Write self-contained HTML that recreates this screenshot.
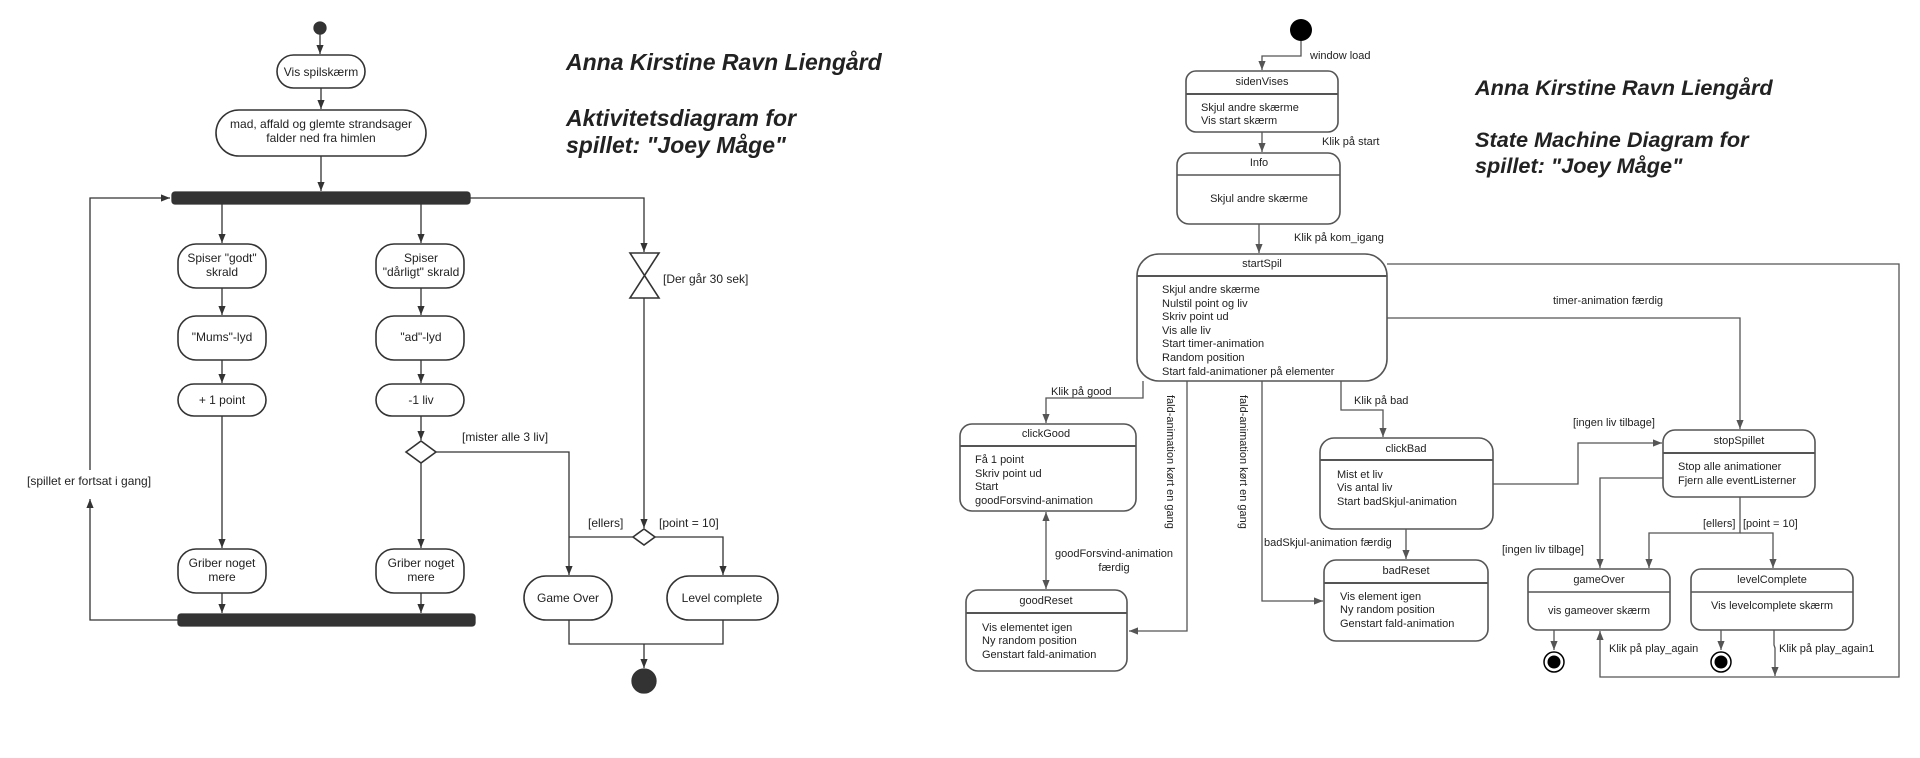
<!DOCTYPE html>
<html><head><meta charset="utf-8"><style>
html,body{margin:0;padding:0;background:#fff;}
svg{display:block;}
text{font-family:"Liberation Sans",sans-serif;fill:#222;}
</style></head><body>
<svg width="1920" height="758" viewBox="0 0 1920 758" xmlns="http://www.w3.org/2000/svg">
<defs>
<marker id="a" viewBox="0 0 10 10" refX="10" refY="5" markerWidth="7" markerHeight="7" orient="auto-start-reverse"><path d="M0,1 L10,5 L0,9 z" fill="#333"/></marker>
<marker id="g" viewBox="0 0 10 10" refX="10" refY="5" markerWidth="7" markerHeight="7" orient="auto-start-reverse"><path d="M0,1 L10,5 L0,9 z" fill="#555"/></marker>
</defs>

<!-- ===== Activity diagram ===== -->
<g stroke="#333" stroke-width="1.3" fill="none">
<circle cx="320" cy="28" r="6" fill="#333"/>
<path d="M320 34 V54" marker-end="url(#a)"/>
<rect x="277" y="55" width="88" height="33" rx="16.5" fill="#fff" stroke-width="1.6"/>
<path d="M321 88 V109" marker-end="url(#a)"/>
<rect x="216" y="110" width="210" height="46" rx="23" fill="#fff" stroke-width="1.6"/>
<path d="M321 156 V191" marker-end="url(#a)"/>
<rect x="172" y="192" width="298" height="12" rx="3" fill="#333"/>
<path d="M222 204 V243" marker-end="url(#a)"/>
<path d="M421 204 V243" marker-end="url(#a)"/>
<path d="M470 198 H644 V252" marker-end="url(#a)"/>
<rect x="178" y="244" width="88" height="44" rx="18" fill="#fff" stroke-width="1.6"/>
<rect x="376" y="244" width="88" height="44" rx="18" fill="#fff" stroke-width="1.6"/>
<path d="M222 288 V315" marker-end="url(#a)"/>
<path d="M421 288 V315" marker-end="url(#a)"/>
<rect x="178" y="316" width="88" height="44" rx="18" fill="#fff" stroke-width="1.6"/>
<rect x="376" y="316" width="88" height="44" rx="18" fill="#fff" stroke-width="1.6"/>
<path d="M222 360 V383" marker-end="url(#a)"/>
<path d="M421 360 V383" marker-end="url(#a)"/>
<rect x="178" y="384" width="88" height="32" rx="16" fill="#fff" stroke-width="1.6"/>
<rect x="376" y="384" width="88" height="32" rx="16" fill="#fff" stroke-width="1.6"/>
<path d="M222 416 V548" marker-end="url(#a)"/>
<path d="M421 416 V440" marker-end="url(#a)"/>
<path d="M406 452 L421 441 L436 452 L421 463 Z" fill="#fff" stroke-width="1.6"/>
<path d="M421 463 V548" marker-end="url(#a)"/>
<path d="M436 452 H569 V575" marker-end="url(#a)"/>
<rect x="178" y="549" width="88" height="44" rx="18" fill="#fff" stroke-width="1.6"/>
<rect x="376" y="549" width="88" height="44" rx="18" fill="#fff" stroke-width="1.6"/>
<path d="M222 593 V613" marker-end="url(#a)"/>
<path d="M421 593 V613" marker-end="url(#a)"/>
<rect x="178" y="614" width="297" height="12" rx="3" fill="#333"/>
<path d="M178 620 H90 V499" marker-end="url(#a)"/>
<path d="M90 470 V198 H170" marker-end="url(#a)"/>
<path d="M630 253 H659 L630 298 H659 Z" fill="#fff" stroke-width="1.6"/>
<path d="M644 298 V528" marker-end="url(#a)"/>
<path d="M633 537 L644 529 L655 537 L644 545 Z" fill="#fff" stroke-width="1.6"/>
<path d="M633 537 H569"/>
<path d="M655 537 H723 V575" marker-end="url(#a)"/>
<rect x="524" y="576" width="88" height="44" rx="22" fill="#fff" stroke-width="1.6"/>
<rect x="667" y="576" width="111" height="44" rx="22" fill="#fff" stroke-width="1.6"/>
<path d="M569 620 V644 H723 V620"/>
<path d="M644 644 V668" marker-end="url(#a)"/>
<circle cx="644" cy="681" r="12" fill="#333"/>
</g>
<g font-size="12" text-anchor="middle">
<text x="321" y="76">Vis spilskærm</text>
<text x="321" y="128">mad, affald og glemte strandsager</text>
<text x="321" y="142">falder ned fra himlen</text>
<text x="222" y="262">Spiser "godt"</text>
<text x="222" y="276">skrald</text>
<text x="421" y="262">Spiser</text>
<text x="421" y="276">"dårligt" skrald</text>
<text x="222" y="341">"Mums"-lyd</text>
<text x="421" y="341">"ad"-lyd</text>
<text x="222" y="404">+ 1 point</text>
<text x="421" y="404">-1 liv</text>
<text x="222" y="567">Griber noget</text>
<text x="222" y="581">mere</text>
<text x="421" y="567">Griber noget</text>
<text x="421" y="581">mere</text>
<text x="568" y="602">Game Over</text>
<text x="722" y="602">Level complete</text>
</g>
<g font-size="12">
<text x="462" y="441">[mister alle 3 liv]</text>
<text x="663" y="283">[Der går 30 sek]</text>
<text x="588" y="527">[ellers]</text>
<text x="659" y="527">[point = 10]</text>
<text x="27" y="485">[spillet er fortsat i gang]</text>
</g>
<g font-size="23" font-weight="bold" font-style="italic">
<text x="566" y="70">Anna Kirstine Ravn Liengård</text>
<text x="566" y="126">Aktivitetsdiagram for</text>
<text x="566" y="153">spillet: "Joey Måge"</text>
</g>

<!-- ===== State machine diagram ===== -->
<g stroke="#555" stroke-width="1.3" fill="none">
<circle cx="1301" cy="30" r="11" fill="#000" stroke="none"/>
<path d="M1301 41 V56 H1262 V70" marker-end="url(#g)"/>
<rect x="1186" y="71" width="152" height="61" rx="10" fill="#fff" stroke-width="1.6"/>
<path d="M1186 94 H1338" stroke-width="2"/>
<path d="M1262 132 V152" marker-end="url(#g)"/>
<rect x="1177" y="153" width="163" height="71" rx="12" fill="#fff" stroke-width="1.6"/>
<path d="M1177 175 H1340" stroke-width="1.6"/>
<path d="M1259 224 V253" marker-end="url(#g)"/>
<rect x="1137" y="254" width="250" height="127" rx="22" fill="#fff" stroke-width="1.6"/>
<path d="M1137 276 H1387" stroke-width="2"/>
<path d="M1387 264 H1899 V677 H1600 V631" marker-end="url(#g)"/>
<path d="M1774 630 V645 L1775 648 V676" marker-end="url(#g)"/>
<path d="M1387 318 H1740 V429" marker-end="url(#g)"/>
<path d="M1143 381 V398 H1046 V423" marker-end="url(#g)"/>
<rect x="960" y="424" width="176" height="87" rx="12" fill="#fff" stroke-width="1.6"/>
<path d="M960 446 H1136" stroke-width="2"/>
<path d="M1046 512 V589" marker-start="url(#g)" marker-end="url(#g)"/>
<rect x="966" y="590" width="161" height="81" rx="12" fill="#fff" stroke-width="1.6"/>
<path d="M966 613 H1127" stroke-width="2"/>
<path d="M1187 381 V631 H1129" marker-end="url(#g)"/>
<path d="M1262 381 V601 H1323" marker-end="url(#g)"/>
<path d="M1341 381 V410 H1383 V437" marker-end="url(#g)"/>
<rect x="1320" y="438" width="173" height="91" rx="14" fill="#fff" stroke-width="1.6"/>
<path d="M1320 460 H1493" stroke-width="2"/>
<path d="M1493 484 H1578 V443 H1662" marker-end="url(#g)"/>
<path d="M1406 529 V559" marker-end="url(#g)"/>
<rect x="1324" y="560" width="164" height="81" rx="12" fill="#fff" stroke-width="1.6"/>
<path d="M1324 583 H1488" stroke-width="2"/>
<rect x="1663" y="430" width="152" height="67" rx="12" fill="#fff" stroke-width="1.6"/>
<path d="M1663 453 H1815" stroke-width="2"/>
<path d="M1663 478 H1600 V568" marker-end="url(#g)"/>
<path d="M1740 497 V533 H1649 V568" marker-end="url(#g)"/>
<path d="M1740 533 H1773 V568" marker-end="url(#g)"/>
<rect x="1528" y="569" width="142" height="61" rx="10" fill="#fff" stroke-width="1.6"/>
<path d="M1528 592 H1670" stroke-width="1.6"/>
<rect x="1691" y="569" width="162" height="61" rx="10" fill="#fff" stroke-width="1.6"/>
<path d="M1691 592 H1853" stroke-width="1.6"/>
<path d="M1554 630 V650" marker-end="url(#g)"/>
<path d="M1721 630 V650" marker-end="url(#g)"/>
<circle cx="1554" cy="662" r="10" fill="#fff" stroke="#000" stroke-width="1.5"/>
<circle cx="1554" cy="662" r="6.5" fill="#000" stroke="none"/>
<circle cx="1721" cy="662" r="10" fill="#fff" stroke="#000" stroke-width="1.5"/>
<circle cx="1721" cy="662" r="6.5" fill="#000" stroke="none"/>
</g>
<g font-size="11" text-anchor="middle">
<text x="1262" y="85">sidenVises</text>
<text x="1259" y="166">Info</text>
<text x="1259" y="202">Skjul andre skærme</text>
<text x="1262" y="267">startSpil</text>
<text x="1046" y="437">clickGood</text>
<text x="1046" y="604">goodReset</text>
<text x="1406" y="452">clickBad</text>
<text x="1406" y="574">badReset</text>
<text x="1739" y="444">stopSpillet</text>
<text x="1599" y="583">gameOver</text>
<text x="1599" y="614">vis gameover skærm</text>
<text x="1772" y="583">levelComplete</text>
<text x="1772" y="609">Vis levelcomplete skærm</text>
<text x="1114" y="557">goodForsvind-animation</text>
<text x="1114" y="571">færdig</text>
</g>
<g font-size="11">
<text x="1201" y="111">Skjul andre skærme</text>
<text x="1201" y="124">Vis start skærm</text>
<text x="1162" y="293">Skjul andre skærme</text>
<text x="1162" y="307">Nulstil point og liv</text>
<text x="1162" y="320">Skriv point ud</text>
<text x="1162" y="334">Vis alle liv</text>
<text x="1162" y="347">Start timer-animation</text>
<text x="1162" y="361">Random position</text>
<text x="1162" y="375">Start fald-animationer på elementer</text>
<text x="975" y="463">Få 1 point</text>
<text x="975" y="477">Skriv point ud</text>
<text x="975" y="490">Start</text>
<text x="975" y="504">goodForsvind-animation</text>
<text x="982" y="631">Vis elementet igen</text>
<text x="982" y="644">Ny random position</text>
<text x="982" y="658">Genstart fald-animation</text>
<text x="1337" y="478">Mist et liv</text>
<text x="1337" y="491">Vis antal liv</text>
<text x="1337" y="505">Start badSkjul-animation</text>
<text x="1340" y="600">Vis element igen</text>
<text x="1340" y="613">Ny random position</text>
<text x="1340" y="627">Genstart fald-animation</text>
<text x="1678" y="470">Stop alle animationer</text>
<text x="1678" y="484">Fjern alle eventListerner</text>
<text x="1310" y="59">window load</text>
<text x="1322" y="145">Klik på start</text>
<text x="1294" y="241">Klik på kom_igang</text>
<text x="1553" y="304">timer-animation færdig</text>
<text x="1051" y="395">Klik på good</text>
<text x="1354" y="404">Klik på bad</text>
<text x="1573" y="426">[ingen liv tilbage]</text>
<text x="1264" y="546">badSkjul-animation færdig</text>
<text x="1502" y="553">[ingen liv tilbage]</text>
<text x="1703" y="527">[ellers]</text>
<text x="1743" y="527">[point = 10]</text>
<text x="1609" y="652">Klik på play_again</text>
<text x="1779" y="652">Klik på play_again1</text>
<text transform="translate(1167,395) rotate(90)">fald-animation kørt en gang</text>
<text transform="translate(1240,395) rotate(90)">fald-animation kørt en gang</text>
</g>
<g font-size="21.7" font-weight="bold" font-style="italic">
<text x="1475" y="95">Anna Kirstine Ravn Liengård</text>
<text x="1475" y="147">State Machine Diagram for</text>
<text x="1475" y="173">spillet: "Joey Måge"</text>
</g>
</svg>
</body></html>
